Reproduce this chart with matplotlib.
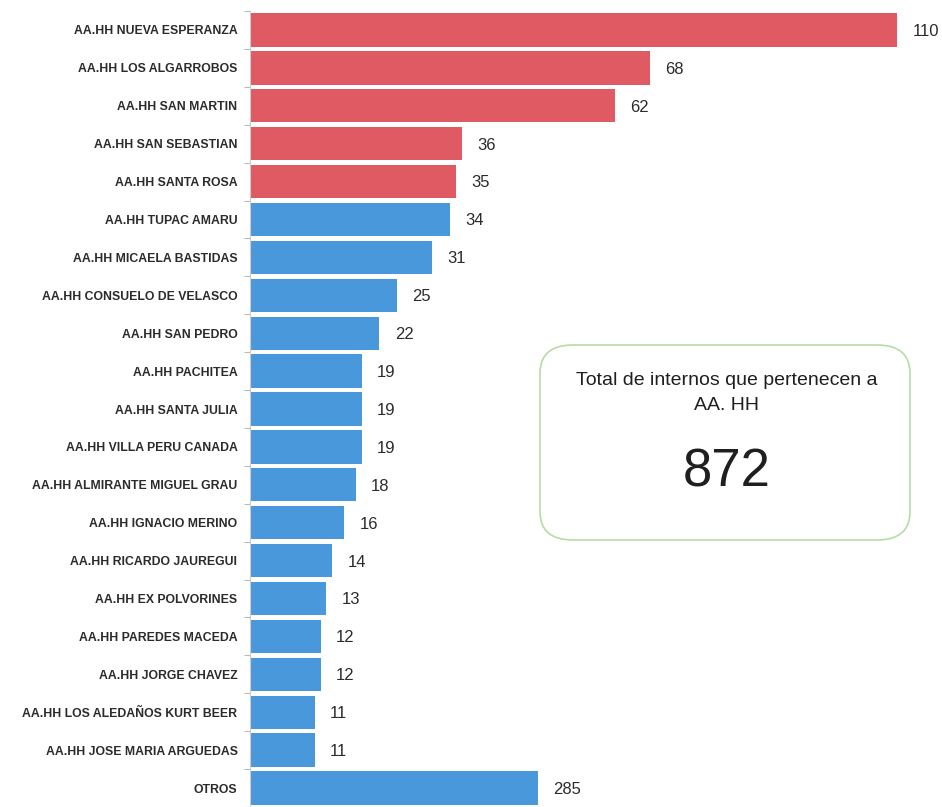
#!/usr/bin/env python3
"""Internos por asentamiento humano (AA.HH), barras horizontales."""

import matplotlib
matplotlib.use("Agg")
import matplotlib.pyplot as plt
from matplotlib.patches import FancyBboxPatch

categories = [
    "AA.HH NUEVA ESPERANZA",
    "AA.HH LOS ALGARROBOS",
    "AA.HH SAN MARTIN",
    "AA.HH SAN SEBASTIAN",
    "AA.HH SANTA ROSA",
    "AA.HH TUPAC AMARU",
    "AA.HH MICAELA BASTIDAS",
    "AA.HH CONSUELO DE VELASCO",
    "AA.HH SAN PEDRO",
    "AA.HH PACHITEA",
    "AA.HH SANTA JULIA",
    "AA.HH VILLA PERU CANADA",
    "AA.HH ALMIRANTE MIGUEL GRAU",
    "AA.HH IGNACIO MERINO",
    "AA.HH RICARDO JAUREGUI",
    "AA.HH EX POLVORINES",
    "AA.HH PAREDES MACEDA",
    "AA.HH JORGE CHAVEZ",
    "AA.HH LOS ALEDAÑOS KURT BEER",
    "AA.HH JOSE MARIA ARGUEDAS",
    "OTROS",
]
values = [110, 68, 62, 36, 35, 34, 31, 25, 22, 19, 19, 19, 18, 16, 14, 13, 12, 12, 11, 11, 285]
# the original chart cuts the OTROS bar short instead of drawing it to scale
otros_cap = 49
n_highlight = 5
total_label = "Total de internos que pertenecen a\nAA. HH"
total_value = "872"

RED = "#DF5A63"
BLUE = "#4A98DC"
TEXT = "#2b2b2b"
SANS = ["Liberation Sans", "DejaVu Sans"]


def main():
    fig = plt.figure(figsize=(9.42, 8.07), dpi=100)
    ax = fig.add_axes([250 / 942, 0.0, 647 / 942, 796 / 807])

    y = list(range(len(categories)))
    lengths = [min(v, otros_cap) if c == "OTROS" else v for c, v in zip(categories, values)]
    colors = [RED if i < n_highlight else BLUE for i in y]
    bars = ax.barh(y, lengths, height=0.88, color=colors, edgecolor="none")

    for bar, v in zip(bars, values):
        ax.annotate(str(v), (bar.get_width(), bar.get_y() + bar.get_height() / 2),
                    xytext=(11, -1), textcoords="offset points", va="center", ha="left",
                    fontsize=12, color=TEXT, family=SANS, annotation_clip=False)

    ax.set_xlim(0, 110)
    ax.set_ylim(len(categories) - 0.5, -0.5)
    ax.set_yticks(y)
    ax.set_yticklabels(categories, fontsize=8.8, fontweight="bold", color=TEXT, family=SANS)
    ax.tick_params(axis="y", length=0, pad=9)
    ax.set_yticks([i + 0.5 for i in range(-1, len(categories))], minor=True)
    ax.tick_params(axis="y", which="minor", length=4, color="#bbbbbb", width=0.8)
    ax.set_xticks([])
    for side in ("top", "right", "bottom"):
        ax.spines[side].set_visible(False)
    ax.spines["left"].set_color("#cccccc")
    ax.spines["left"].set_linewidth(0.8)

    # summary box
    box = FancyBboxPatch((540 / 942, 1 - 540 / 807), 370 / 942, 195 / 807,
                         boxstyle="round,pad=0,rounding_size=0.035",
                         transform=fig.transFigure, facecolor="white",
                         edgecolor="#b8dba5", linewidth=1.2)
    fig.patches.append(box)
    fig.text(727 / 942, 1 - 393 / 807, total_label, ha="center", va="center",
             fontsize=14, color="#1f1f1f", linespacing=1.55, family=SANS)
    fig.text(727 / 942, 1 - 473 / 807, total_value, ha="center", va="center",
             fontsize=38, color="#1f1f1f", family=SANS)

    fig.savefig("out.png", dpi=100)


if __name__ == "__main__":
    main()
